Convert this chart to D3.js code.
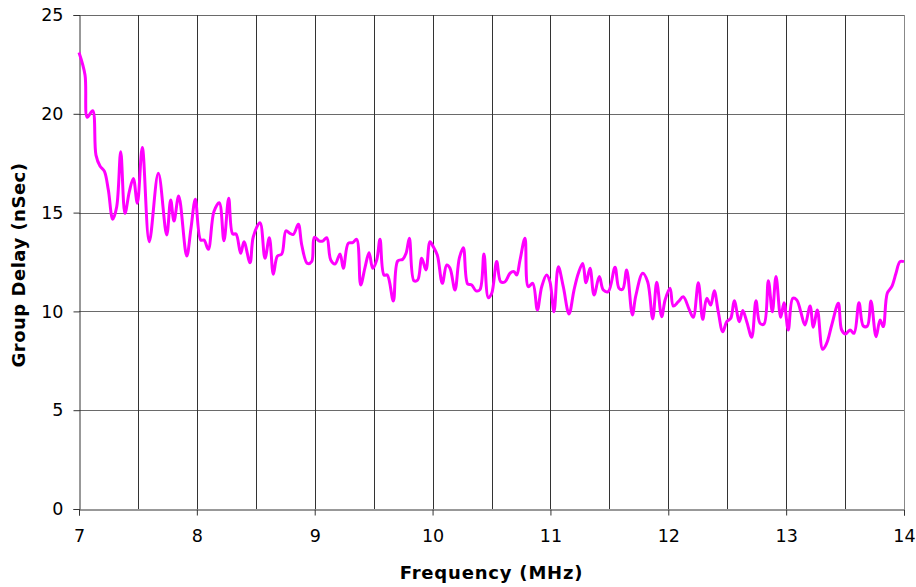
<!DOCTYPE html>
<html>
<head>
<meta charset="utf-8">
<script src="https://cdn.jsdelivr.net/npm/d3@7"></script>
<style>
  body { margin: 0; background: white; }
</style>
</head>
<body>
<div id="container"></div>
<script>
let w = 916;
let h = 587;

// frequency (MHz) and group delay (nSec)
let freq = [
  7.000, 7.051, 7.070, 7.116, 7.144, 7.178, 7.215, 7.249, 7.286, 7.320,
  7.354, 7.390, 7.427, 7.461, 7.495, 7.537, 7.596, 7.673, 7.744, 7.778,
  7.806, 7.846, 7.914, 7.950, 7.987, 8.033, 8.061, 8.097, 8.145, 8.190,
  8.230, 8.270, 8.304, 8.332, 8.372, 8.400, 8.451, 8.479, 8.536, 8.578,
  8.615, 8.649, 8.683, 8.720, 8.756, 8.790, 8.819, 8.861, 8.890, 8.937,
  8.974, 8.997, 9.039, 9.068, 9.102, 9.136, 9.172, 9.215, 9.243, 9.285,
  9.322, 9.356, 9.390, 9.427, 9.461, 9.492, 9.526, 9.554, 9.588, 9.616,
  9.667, 9.704, 9.747, 9.775, 9.803, 9.842, 9.874, 9.908, 9.944, 9.978,
  10.006, 10.040, 10.083, 10.120, 10.148, 10.190, 10.227, 10.261, 10.298, 10.332,
  10.369, 10.402, 10.436, 10.473, 10.502, 10.544, 10.578, 10.615, 10.657, 10.691,
  10.714, 10.742, 10.784, 10.812, 10.850, 10.889, 10.926, 10.968, 10.996, 11.030,
  11.067, 11.109, 11.158, 11.200, 11.237, 11.274, 11.302, 11.336, 11.370, 11.415,
  11.449, 11.491, 11.548, 11.582, 11.613, 11.647, 11.695, 11.724, 11.783, 11.825,
  11.868, 11.902, 11.944, 11.973, 12.015, 12.043, 12.085, 12.127, 12.178, 12.212,
  12.255, 12.292, 12.326, 12.360, 12.390, 12.424, 12.462, 12.496, 12.530, 12.560,
  12.603, 12.632, 12.666, 12.708, 12.744, 12.778, 12.812, 12.849, 12.883, 12.914,
  12.954, 12.982, 13.018, 13.056, 13.090, 13.124, 13.160, 13.203, 13.231, 13.265,
  13.310, 13.344, 13.387, 13.443, 13.471, 13.505, 13.542, 13.576, 13.618, 13.655,
  13.689, 13.720, 13.763, 13.797, 13.824, 13.858, 13.896, 13.932, 13.966, 14.000
];

let delay = [
  23.10, 21.96, 19.82, 20.16, 17.91, 17.36, 17.10, 16.14, 14.66, 15.30,
  18.08, 14.96, 16.06, 16.73, 15.47, 18.30, 13.53, 16.99, 13.87, 15.64,
  14.57, 15.84, 12.80, 14.20, 15.67, 13.61, 13.61, 13.14, 15.05, 15.50,
  13.58, 15.72, 13.92, 13.92, 12.94, 13.53, 12.46, 13.78, 14.49, 12.69,
  13.73, 11.88, 12.80, 12.90, 14.08, 13.95, 13.90, 14.41, 13.36, 12.43,
  12.52, 13.75, 13.56, 13.56, 13.73, 12.60, 12.40, 12.90, 12.18, 13.45,
  13.48, 13.65, 11.34, 12.23, 12.97, 12.18, 12.60, 13.65, 11.84, 11.84,
  10.53, 12.55, 12.64, 12.94, 13.70, 11.55, 11.59, 12.69, 12.10, 13.53,
  13.27, 12.85, 11.42, 12.35, 12.18, 11.08, 12.69, 13.22, 11.39, 11.34,
  11.04, 11.10, 12.90, 10.69, 10.92, 12.52, 11.50, 11.50, 11.93, 12.01,
  11.84, 12.60, 13.70, 11.25, 11.42, 10.07, 11.25, 11.84, 11.50, 9.98,
  12.26, 11.25, 9.87, 11.08, 11.93, 12.43, 11.45, 12.18, 10.83, 11.76,
  11.08, 11.00, 12.23, 11.17, 11.12, 12.10, 9.82, 10.78, 11.93, 11.50,
  9.62, 11.47, 9.73, 10.58, 11.17, 10.27, 10.49, 10.74, 10.09, 9.70,
  11.45, 9.60, 10.66, 10.32, 11.05, 9.98, 8.97, 9.48, 9.65, 10.54,
  9.48, 10.04, 9.48, 8.69, 10.54, 9.40, 9.36, 11.55, 9.98, 11.76,
  9.70, 10.44, 9.06, 10.66, 10.58, 9.98, 9.31, 10.27, 9.20, 10.07,
  8.08, 8.39, 9.31, 10.41, 9.06, 8.86, 9.06, 8.89, 10.44, 9.26,
  9.26, 10.53, 8.72, 9.56, 9.23, 10.92, 11.25, 11.93, 12.52, 12.52
];

let xTicks = [7, 8, 9, 10, 11, 12, 13, 14];
let xGrid = [7.5, 8, 8.5, 9, 9.5, 10, 10.5, 11, 11.5, 12, 12.5, 13, 13.5, 14];
let yTicks = [0, 5, 10, 15, 20, 25];

let plotLeft = 79, plotRight = 904, plotTop = 15, plotBottom = 509;

let x = d3.scaleLinear().domain([7, 14]).range([plotLeft, plotRight]);
let y = d3.scaleLinear().domain([0, 25]).range([plotBottom, plotTop]);

let viz = d3.select("#container")
  .append("svg")
    .attr("width", w)
    .attr("height", h)
    .style("background-color", "white")
;

// horizontal gridlines
viz.selectAll(".hgrid")
  .data(yTicks.slice(1))
  .enter()
  .append("line")
    .attr("x1", plotLeft)
    .attr("x2", plotRight)
    .attr("y1", d => Math.round(y(d)) + 0.5)
    .attr("y2", d => Math.round(y(d)) + 0.5)
    .style("stroke", "#6a6a6a")
    .style("stroke-width", 1)
;

// vertical gridlines every half MHz
viz.selectAll(".vgrid")
  .data(xGrid)
  .enter()
  .append("line")
    .attr("x1", d => Math.round(x(d)) + 0.5)
    .attr("x2", d => Math.round(x(d)) + 0.5)
    .attr("y1", plotTop)
    .attr("y2", plotBottom)
    .style("stroke", d => d === 14 ? "#888" : "#333")
    .style("stroke-width", 1)
;

// axes
let xAxis = d3.axisBottom(x)
  .tickValues(xTicks)
  .tickFormat(d3.format("d"))
  .tickSize(6)
  .tickPadding(14);

let yAxis = d3.axisLeft(y)
  .tickValues(yTicks)
  .tickFormat(d3.format("d"))
  .tickSize(6)
  .tickPadding(10);

let gx = viz.append("g")
    .attr("transform", "translate(0," + (plotBottom + 0.5) + ")")
    .call(xAxis);

let gy = viz.append("g")
    .attr("transform", "translate(" + (plotLeft + 0.5) + ",0)")
    .call(yAxis);

[gx, gy].forEach(g => {
  g.select(".domain").style("stroke", "#333");
  g.selectAll(".tick line").style("stroke", "#333");
  g.selectAll("text")
    .attr("fill", "black")
    .style("font-size", "17.5px")
    .style("font-family", "DejaVu Sans, Verdana, sans-serif");
});

// the trace
let pts = freq.map((f, i) => [f, delay[i]]);

let line = d3.line()
  .x(d => x(d[0]))
  .y(d => y(d[1]))
  .curve(d3.curveCatmullRom.alpha(0.5));

viz.append("path")
    .datum(pts)
    .attr("d", line)
    .attr("fill", "none")
    .style("stroke", "#ff00ff")
    .style("stroke-width", 3)
    .style("stroke-linejoin", "round")
;

// axis titles
viz.append("text")
    .text("Frequency (MHz)")
    .attr("x", (plotLeft + plotRight) / 2)
    .attr("y", 579)
    .attr("text-anchor", "middle")
    .attr("fill", "black")
    .style("font-size", "18px")
    .style("font-weight", "bold")
    .style("letter-spacing", "0.8px")
    .style("font-family", "DejaVu Sans, Verdana, sans-serif")
;

viz.append("text")
    .text("Group Delay (nSec)")
    .attr("transform", "translate(25,265) rotate(-90)")
    .attr("text-anchor", "middle")
    .attr("fill", "black")
    .style("font-size", "18px")
    .style("font-weight", "bold")
    .style("letter-spacing", "0.5px")
    .style("font-family", "DejaVu Sans, Verdana, sans-serif")
;
</script>
</body>
</html>
